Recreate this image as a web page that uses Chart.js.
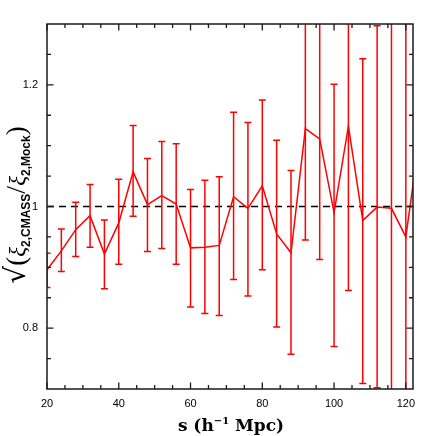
<!DOCTYPE html>
<html>
<head>
<meta charset="utf-8">
<script src="https://cdn.jsdelivr.net/npm/chart.js@4.4.1/dist/chart.umd.min.js"></script>
<style>
  body { margin: 0; background: #fff; }
</style>
</head>
<body>
<canvas id="ratioChart" width="436" height="436"></canvas>
<script>
// separation bins (h^-1 Mpc)
const sValues = [20, 24, 28, 32, 36, 40, 44, 48, 52, 56, 60, 64, 68, 72, 76, 80, 84, 88, 92, 96, 100, 104, 108, 112, 116, 120, 124];
// sqrt(xi2 CMASS / xi2 Mock)
const ratio = [0.896, 0.927, 0.962, 0.985, 0.922, 0.973, 1.057, 1.003, 1.018, 1.004, 0.932, 0.933, 0.936, 1.016, 0.997, 1.034, 0.955, 0.924, 1.128, 1.111, 0.990, 1.132, 0.977, 0.999, 0.997, 0.950, 1.120];
// error bar ends
const errLow = [0.867, 0.893, 0.918, 0.933, 0.865, 0.905, 0.984, 0.926, 0.931, 0.905, 0.835, 0.824, 0.821, 0.880, 0.853, 0.896, 0.802, 0.757, 0.945, 0.913, 0.770, 0.862, 0.709, 0.702, 0.550, 0.550, 0.900];
const errHigh = [0.923, 0.963, 1.007, 1.036, 0.978, 1.045, 1.133, 1.079, 1.107, 1.103, 1.028, 1.043, 1.049, 1.155, 1.138, 1.175, 1.109, 1.059, 1.340, 1.330, 1.201, 1.420, 1.243, 1.297, 1.450, 1.350, 1.340];

const refValue = 1;
const xTicks = [20, 40, 60, 80, 100, 120];
const yTicks = [0.8, 1, 1.2];
const xMinor = 5;
const yMinor = 0.05;

const RED = 'rgb(255,0,0)';
const FRAME = '#1a1a1a';

const errorBars = {
  id: 'errorBars',
  afterDatasetsDraw(chart) {
    const { ctx, chartArea, scales: { x, y } } = chart;
    ctx.save();
    ctx.beginPath();
    ctx.rect(chartArea.left, chartArea.top, chartArea.right - chartArea.left, chartArea.bottom - chartArea.top);
    ctx.clip();
    ctx.strokeStyle = RED;
    ctx.lineWidth = 1.5;
    sValues.forEach((s, i) => {
      const px = x.getPixelForValue(s);
      const top = y.getPixelForValue(errHigh[i]);
      const bot = y.getPixelForValue(errLow[i]);
      ctx.beginPath();
      ctx.moveTo(px, top);
      ctx.lineTo(px, bot);
      ctx.moveTo(px - 3.5, top);
      ctx.lineTo(px + 3.5, top);
      ctx.moveTo(px - 3.5, bot);
      ctx.lineTo(px + 3.5, bot);
      ctx.stroke();
    });
    ctx.restore();
  }
};

const frameAndTitles = {
  id: 'frameAndTitles',
  afterDraw(chart) {
    const { ctx, chartArea: a, scales: { x, y } } = chart;
    ctx.save();
    ctx.strokeStyle = FRAME;
    ctx.lineWidth = 1.5;
    ctx.strokeRect(a.left, a.top, a.right - a.left, a.bottom - a.top);

    // inward ticks on all four sides
    ctx.lineWidth = 1.3;
    ctx.beginPath();
    for (let v = x.min; v <= x.max + 1e-9; v += xMinor) {
      const px = x.getPixelForValue(v);
      const len = xTicks.includes(v) ? 6.5 : 4;
      ctx.moveTo(px, a.bottom); ctx.lineTo(px, a.bottom - len);
      ctx.moveTo(px, a.top); ctx.lineTo(px, a.top + len);
    }
    for (let k = 1; k * yMinor + y.min < y.max - 1e-9; k++) {
      const v = Math.round((y.min + k * yMinor) * 100) / 100;
      const py = y.getPixelForValue(v);
      const len = yTicks.includes(v) ? 6.5 : 4;
      ctx.moveTo(a.left, py); ctx.lineTo(a.left + len, py);
      ctx.moveTo(a.right, py); ctx.lineTo(a.right - len, py);
    }
    ctx.stroke();

    // x title with superscript
    ctx.fillStyle = '#000';
    ctx.textBaseline = 'alphabetic';
    const big = 'bold 17px "DejaVu Serif"';
    const sup = 'bold 10px "DejaVu Serif"';
    const pieces = [['s (h', big, 0], ['\u22121', sup, -7], [' Mpc)', big, 0]];
    let w = 0;
    pieces.forEach(p => { ctx.font = p[1]; w += ctx.measureText(p[0]).width; });
    let cx = 231 - w / 2;
    pieces.forEach(p => {
      ctx.font = p[1];
      ctx.fillText(p[0], cx, 431 + p[2]);
      cx += ctx.measureText(p[0]).width;
    });

    // y title, rotated, with subscripts
    const yParts = [
      ['\u221A', '28px "DejaVu Sans"', 0],
      ['(', '27px "Liberation Serif"', 0],
      ['\u03BE', 'italic 23px "Liberation Serif"', 0],
      ['2,CMASS', 'bold 12px "Liberation Sans"', 5],
      ['/', '28px "Liberation Serif"', 0],
      ['\u03BE', 'italic 23px "Liberation Serif"', 0],
      ['2,Mock', 'bold 12px "Liberation Sans"', 5],
      [')', '27px "Liberation Serif"', 0]
    ];
    let total = 0;
    yParts.forEach(p => { ctx.font = p[1]; total += ctx.measureText(p[0]).width; });
    ctx.translate(25, 205);
    ctx.rotate(-Math.PI / 2);
    let tx = -total / 2;
    yParts.forEach(p => {
      ctx.font = p[1];
      ctx.fillText(p[0], tx, p[2]);
      tx += ctx.measureText(p[0]).width;
    });
    ctx.restore();
  }
};

const points = sValues.map((s, i) => ({ x: s, y: ratio[i] }));

new Chart(document.getElementById('ratioChart'), {
  type: 'line',
  data: {
    datasets: [
      {
        data: points,
        borderColor: RED,
        borderWidth: 1.5,
        pointRadius: 0,
        tension: 0,
        fill: false
      },
      {
        data: [{ x: 20, y: refValue }, { x: 122, y: refValue }],
        borderColor: '#000',
        borderWidth: 1.5,
        borderDash: [7, 5],
        pointRadius: 0,
        fill: false
      }
    ]
  },
  options: {
    responsive: false,
    animation: false,
    layout: { padding: { top: 24, right: 23, left: 0, bottom: 0 } },
    plugins: {
      legend: { display: false },
      tooltip: { enabled: false }
    },
    scales: {
      x: {
        type: 'linear',
        min: 20,
        max: 122,
        grid: { display: false, drawTicks: false },
        border: { display: false },
        afterFit: s => { s.height = 47; },
        afterBuildTicks: s => { s.ticks = xTicks.map(v => ({ value: v })); },
        ticks: {
          padding: 8,
          maxRotation: 0,
          color: '#000',
          font: { family: '"Liberation Sans", Arial, sans-serif', size: 11 },
          callback: v => String(v)
        }
      },
      y: {
        type: 'linear',
        min: 0.7,
        max: 1.3,
        grid: { display: false, drawTicks: false },
        border: { display: false },
        afterFit: s => { s.width = 47; },
        afterBuildTicks: s => { s.ticks = yTicks.map(v => ({ value: v })); },
        ticks: {
          padding: 9,
          color: '#000',
          font: { family: '"Liberation Sans", Arial, sans-serif', size: 11 },
          callback: v => String(v)
        }
      }
    }
  },
  plugins: [errorBars, frameAndTitles]
});
</script>
</body>
</html>
